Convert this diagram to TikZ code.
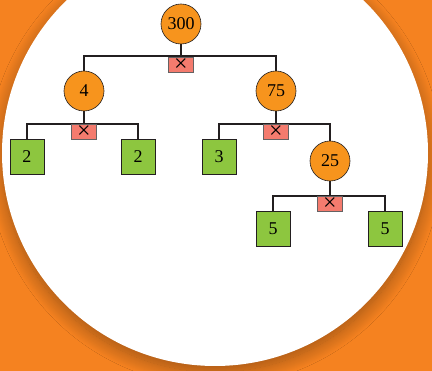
\documentclass[tikz,border=0pt]{standalone}
\usepackage{fontspec}
\setmainfont{Liberation Serif}
\usetikzlibrary{shadows.blur}
\definecolor{bgor}{HTML}{F58220}
\definecolor{nodeor}{HTML}{F7941D}
\definecolor{leafgr}{HTML}{8DC63F}
\definecolor{opred}{HTML}{F47B6E}
\definecolor{ink}{HTML}{231F20}
\tikzset{
  num/.style={circle,draw=ink,line width=0.6pt,fill=nodeor,minimum size=40pt,inner sep=0pt,font=\fontsize{18}{18}\selectfont},
  leaf/.style={rectangle,draw=ink,line width=0.8pt,fill=leafgr,minimum width=34pt,minimum height=35pt,inner sep=0pt,font=\fontsize{18}{18}\selectfont},
  opbox/.style={rectangle,draw=ink!70,line width=0.5pt,fill=opred,minimum width=25pt,minimum height=15pt,inner sep=0pt,text height=0pt,text depth=0pt,font=\fontsize{24}{24}\selectfont},
  link/.style={draw=ink,line width=1.4pt}
}
\newcommand{\optimes}{\raisebox{-0.31em}{×}}
\begin{document}
\begin{tikzpicture}[x=1pt,y=-1pt]
\useasboundingbox (0,0) rectangle (432,371);
\begin{scope}
\clip (0,0) rectangle (432,371);
\fill[bgor] (0,0) rectangle (432,371);
\fill[white,blur shadow={shadow xshift=0pt,shadow yshift=-6pt,shadow blur radius=14pt,shadow blur steps=30,shadow opacity=35,shadow scale=1.0}] (215,153) circle[radius=213pt];
\end{scope}
% nodes
\node[num] (n300) at (181,24) {300};
\node[num] (n4) at (84,91) {4};
\node[num] (n75) at (276,91) {75};
\node[num] (n25) at (330,161) {25};
\node[leaf] (l2a) at (27,156.5) {2};
\node[leaf] (l2b) at (138,156.5) {2};
\node[leaf] (l3) at (219,156.5) {3};
\node[leaf] (l5a) at (273,228.5) {5};
\node[leaf] (l5b) at (385,228.5) {5};
% bar junctions
\coordinate (b1) at (181,56);
\coordinate (b2) at (84,124);
\coordinate (b3) at (276,124);
\coordinate (b4) at (330,196);
% connectors
\draw[link] (n300.south) -- (b1);
\draw[link] (n4.north) |- (b1) -| (n75.north);
\draw[link] (n4.south) -- (b2);
\draw[link] (l2a.north) |- (b2) -| (l2b.north);
\draw[link] (n75.south) -- (b3);
\draw[link] (l3.north) |- (b3) -| (n25.north);
\draw[link] (n25.south) -- (b4);
\draw[link] (l5a.north) |- (b4) -| (l5b.north);
% operation boxes
\node[opbox] (x1) at (181,64.5) {\optimes};
\node[opbox] (x2) at (84,131.5) {\optimes};
\node[opbox] (x3) at (276,131.5) {\optimes};
\node[opbox] (x4) at (330,203.5) {\optimes};
\end{tikzpicture}
\end{document}
